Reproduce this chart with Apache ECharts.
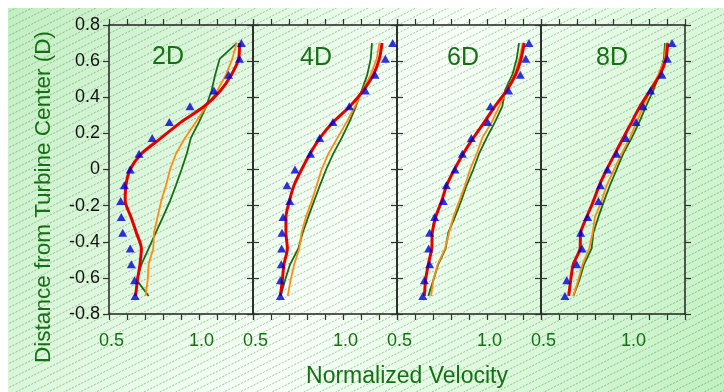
<!DOCTYPE html>
<html>
<head>
<meta charset="utf-8">
<script src="https://cdn.jsdelivr.net/npm/echarts@6/dist/echarts.min.js"></script>
<style>
html,body{margin:0;padding:0;background:#fff;}
#chart{width:724px;height:392px;}
</style>
</head>
<body>
<div id="chart"></div>
<script>
// ---- data ----
const panelNames = ['2D', '4D', '6D', '8D'];
const xTickLabels = ['0.5', '1.0'];
const yLevels = [0.7, 0.6125, 0.525, 0.4375, 0.35, 0.2625, 0.175, 0.0875, 0, -0.0875, -0.175, -0.2625, -0.35, -0.4375, -0.525, -0.6125, -0.7];

const tri2D = [1.235, 1.225, 1.164, 1.083, 0.95, 0.835, 0.74, 0.667, 0.618, 0.585, 0.565, 0.568, 0.576, 0.618, 0.624, 0.642, 0.645];
const red2D = [1.225, 1.22, 1.18, 1.12, 1.03, 0.9, 0.79, 0.68, 0.617, 0.594, 0.59, 0.622, 0.652, 0.68, 0.672, 0.658, 0.648];
const orange2D = [1.209, 1.185, 1.15, 1.102, 1.04, 0.983, 0.922, 0.872, 0.839, 0.817, 0.79, 0.77, 0.75, 0.746, 0.72, 0.715, 0.703];
const green2D = [1.21, 1.115, 1.09, 1.07, 1.04, 1.0, 0.955, 0.932, 0.903, 0.872, 0.839, 0.80, 0.76, 0.72, 0.68, 0.654, 0.72];

const tri4D = [1.276, 1.235, 1.178, 1.124, 1.035, 0.944, 0.87, 0.819, 0.733, 0.689, 0.704, 0.667, 0.661, 0.659, 0.657, 0.652, 0.652];
const red4D = [1.217, 1.202, 1.169, 1.113, 1.039, 0.946, 0.872, 0.817, 0.77, 0.728, 0.702, 0.683, 0.683, 0.691, 0.672, 0.663, 0.652];
const orange4D = [1.202, 1.187, 1.154, 1.109, 1.067, 1.02, 0.969, 0.919, 0.881, 0.854, 0.826, 0.794, 0.77, 0.757, 0.729, 0.709, 0.693];
const green4D = [1.161, 1.154, 1.135, 1.104, 1.072, 1.035, 0.993, 0.946, 0.906, 0.872, 0.839, 0.807, 0.776, 0.752, 0.706, 0.678, 0.654];

const tri6D = [1.233, 1.215, 1.185, 1.12, 1.019, 1.004, 0.913, 0.863, 0.822, 0.774, 0.757, 0.709, 0.681, 0.676, 0.681, 0.652, 0.643];
const red6D = [1.207, 1.189, 1.159, 1.109, 1.044, 0.985, 0.924, 0.868, 0.819, 0.776, 0.748, 0.715, 0.696, 0.693, 0.674, 0.659, 0.652];
const orange6D = [1.198, 1.18, 1.152, 1.109, 1.068, 1.026, 0.974, 0.943, 0.906, 0.878, 0.846, 0.813, 0.789, 0.767, 0.726, 0.702, 0.689];
const green6D = [1.178, 1.165, 1.141, 1.1, 1.085, 1.044, 0.998, 0.956, 0.924, 0.887, 0.856, 0.822, 0.785, 0.77, 0.729, 0.702, 0.674];

const tri8D = [1.228, 1.202, 1.172, 1.109, 1.067, 1.028, 0.972, 0.92, 0.87, 0.83, 0.819, 0.759, 0.72, 0.728, 0.698, 0.643, 0.633];
const red8D = [1.204, 1.194, 1.161, 1.106, 1.05, 1.004, 0.957, 0.911, 0.865, 0.824, 0.791, 0.754, 0.72, 0.717, 0.679, 0.665, 0.654];
const orange8D = [1.194, 1.187, 1.152, 1.106, 1.069, 1.031, 0.994, 0.948, 0.906, 0.865, 0.837, 0.8, 0.787, 0.768, 0.731, 0.707, 0.68];
const green8D = [1.189, 1.183, 1.157, 1.124, 1.083, 1.046, 1.004, 0.957, 0.92, 0.883, 0.85, 0.819, 0.791, 0.781, 0.739, 0.713, 0.68];

const triSets = [tri2D, tri4D, tri6D, tri8D];
const redSets = [red2D, red4D, red6D, red8D];
const orangeSets = [orange2D, orange4D, orange6D, orange8D];
const greenSets = [green2D, green4D, green6D, green8D];

// ---- styling / layout ----
const FONT = '"Liberation Sans", Arial, sans-serif';
const GREEN_TXT = '#157015';
const AXIS_COL = '#222';
const plotLeft = 109, panelW = 144, plotTop = 25, plotH = 289;

function pairs(vals) { return yLevels.map((y, k) => [vals[k], y]); }

// hatch canvas
const hatch = document.createElement('canvas');
hatch.width = 724; hatch.height = 392;
(function () {
  const c = hatch.getContext('2d');
  c.strokeStyle = 'rgba(70,140,70,0.5)';
  c.lineWidth = 1;
  c.setLineDash([2, 1.5]);
  const slope = 0.5, sp = 8;
  for (let b = 0; b < 392 + 724 * slope + sp; b += sp) {
    c.beginPath();
    c.moveTo(0, b);
    c.lineTo(724, b - 724 * slope);
    c.stroke();
  }
})();

const grids = [], xAxes = [], yAxes = [], series = [];
for (let i = 0; i < 4; i++) {
  grids.push({ left: plotLeft + panelW * i, top: plotTop, width: panelW, height: plotH, containLabel: false });
  const common = {
    min: 0.5, max: 1.3, interval: 0.1, gridIndex: i, type: 'value',
    axisLine: { show: true, onZero: false, lineStyle: { color: AXIS_COL, width: 1.5 } },
    axisTick: { show: true, inside: false, length: 6, lineStyle: { color: '#333', width: 1.2 } },
    splitLine: { show: false }
  };
  xAxes.push(Object.assign({}, common, {
    position: 'bottom',
    axisLabel: {
      show: true, margin: 18, fontSize: 18, fontFamily: FONT, color: GREEN_TXT, padding: [0, 0, 0, 5],
      showMinLabel: true, showMaxLabel: true,
      formatter: v => {
        if (Math.abs(v - 0.5) < 1e-6) return xTickLabels[0];
        if (Math.abs(v - 1.0) < 1e-6) return xTickLabels[1];
        return '';
      }
    }
  }));
  xAxes.push(Object.assign({}, common, { position: 'top', axisLabel: { show: false } }));
  const ycommon = {
    min: -0.8, max: 0.8, interval: 0.2, gridIndex: i, type: 'value',
    axisLine: { show: true, onZero: false, lineStyle: { color: AXIS_COL, width: 1.5 } },
    axisTick: { show: true, inside: false, length: 6, lineStyle: { color: '#333', width: 1.2 } },
    splitLine: { show: false }
  };
  yAxes.push(Object.assign({}, ycommon, {
    position: 'left',
    axisLabel: {
      show: i === 0, margin: 9, fontSize: 18, fontFamily: FONT, color: '#111',
      formatter: v => (Math.abs(v) < 1e-9 ? '0' : v.toFixed(1))
    }
  }));
  yAxes.push(Object.assign({}, ycommon, { position: 'right', axisLabel: { show: false } }));

  const xi = 2 * i, yi = 2 * i;
  series.push({
    type: 'line', xAxisIndex: xi, yAxisIndex: yi, data: pairs(greenSets[i]),
    showSymbol: false, symbol: 'none', lineStyle: { color: '#166e16', width: 1.8 }, z: 3
  });
  series.push({
    type: 'line', xAxisIndex: xi, yAxisIndex: yi, data: pairs(orangeSets[i]),
    showSymbol: false, symbol: 'none', lineStyle: { color: '#ff8c10', width: 1.8 }, z: 4
  });
  series.push({
    type: 'line', xAxisIndex: xi, yAxisIndex: yi, data: pairs(redSets[i]), smooth: 0.25,
    showSymbol: false, symbol: 'none', lineStyle: { color: '#e00000', width: 3 }, z: 5
  });
  series.push({
    type: 'scatter', xAxisIndex: xi, yAxisIndex: yi, data: pairs(triSets[i]),
    symbol: 'triangle', symbolSize: [9, 8], itemStyle: { color: '#0000d0' }, z: 6
  });
}

const panelLabelPos = [[168, 57], [316, 58], [463, 58], [612, 58]];
const graphics = [
  {
    type: 'rect', z: -20, silent: true,
    shape: { x: 8, y: 8, width: 716, height: 384 },
    style: {
      fill: new echarts.graphic.LinearGradient(0, 0, 1, 1, [
        { offset: 0, color: '#c2eec2' },
        { offset: 0.5, color: '#f8fff8' },
        { offset: 1, color: '#c0f0c0' }
      ])
    }
  },
  {
    type: 'image', z: -19, silent: true,
    style: { image: hatch, x: 0, y: 0, width: 724, height: 392 },
    clipPath: { type: 'rect', shape: { x: 8, y: 8, width: 716, height: 384 } }
  },
  {
    type: 'text', x: 44, y: 197, rotation: Math.PI / 2, z: 10,
    style: { text: 'Distance from Turbine Center (D)', fill: GREEN_TXT, font: '22.5px ' + FONT, align: 'center', verticalAlign: 'middle' }
  },
  {
    type: 'text', x: 407, y: 377, z: 10,
    style: { text: 'Normalized Velocity', fill: GREEN_TXT, font: '23px ' + FONT, align: 'center', verticalAlign: 'middle' }
  }
];
panelNames.forEach((n, i) => {
  graphics.push({
    type: 'text', x: panelLabelPos[i][0], y: panelLabelPos[i][1], z: 10,
    style: { text: n, fill: GREEN_TXT, font: '25px ' + FONT, align: 'center', verticalAlign: 'middle' }
  });
});

const chart = echarts.init(document.getElementById('chart'), null, { renderer: 'canvas' });
chart.setOption({
  animation: false,
  backgroundColor: '#ffffff',
  grid: grids,
  xAxis: xAxes,
  yAxis: yAxes,
  series: series,
  graphic: graphics
});
</script>
</body>
</html>
